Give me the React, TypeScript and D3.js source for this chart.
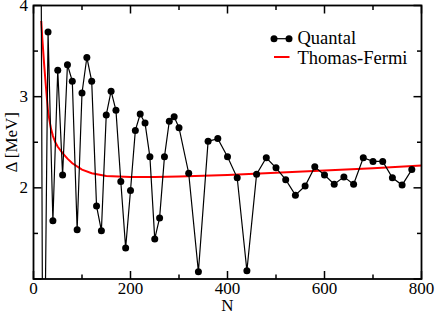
import React from "react";
import * as d3 from "d3";

const quantalN = [10, 20, 30, 40, 50, 60, 70, 80, 90, 100, 110, 120, 130, 140, 150, 160, 170, 180, 190, 200, 210, 220, 230, 240, 250, 260, 270, 280, 290, 300, 320, 340, 360, 380, 400, 420, 440, 460, 480, 500, 520, 540, 560, 580, 600, 620, 640, 660, 680, 700, 720, 740, 760, 780];
const quantalV = [12.5, -1.5, 3.71, 1.64, 3.29, 2.14, 3.35, 3.17, 1.54, 3.04, 3.43, 3.17, 1.8, 1.53, 2.8, 3.06, 2.85, 2.07, 1.34, 1.97, 2.63, 2.81, 2.71, 2.34, 1.44, 1.67, 2.34, 2.73, 2.78, 2.66, 2.16, 1.08, 2.51, 2.54, 2.34, 2.11, 1.09, 2.15, 2.33, 2.22, 2.09, 1.92, 2.02, 2.23, 2.14, 2.04, 2.12, 2.04, 2.33, 2.29, 2.29, 2.11, 2.03, 2.2];

const tfN = [16, 18, 20, 22, 25, 28, 30, 32, 36, 40, 45, 50, 60, 70, 80, 100, 120, 150, 200, 250, 300, 400, 500, 600, 700, 800];
const tfV = [3.83, 3.65, 3.5, 3.35, 3.15, 2.96, 2.84, 2.77, 2.65, 2.57, 2.5, 2.45, 2.38, 2.32, 2.27, 2.2, 2.16, 2.13, 2.12, 2.12, 2.125, 2.14, 2.165, 2.19, 2.215, 2.245];

const xMajor = [0, 200, 400, 600, 800];
const xMinor = [100, 300, 500, 700];
const yMajor = [1, 2, 3, 4];
const yLabels = [2, 3, 4];
const yMinor = [1.5, 2.5, 3.5];

const W = 436, H = 313;
const L = 33.5, R = 421.5, T = 5.5, B = 279;
const FONT = "'Liberation Serif', 'Times New Roman', Times, serif";
const ts = { fontFamily: FONT };

export default function App() {
  const x = d3.scaleLinear().domain([0, 800]).range([L, R]);
  const y = d3.scaleLinear().domain([1, 4]).range([B, T]);
  const q = quantalN.map((n, i) => [n, quantalV[i]] as [number, number]);
  const tf = tfN.map((n, i) => [n, tfV[i]] as [number, number]);
  const line = d3.line<[number, number]>().x(d => x(d[0])).y(d => y(d[1]));
  const majLen = 8, minLen = 4.5;

  return (
    <svg width={W} height={H} style={{ position: "absolute", left: 0, top: 0, display: "block", background: "#fff" }}>
      <defs>
        <clipPath id="plot"><rect x={L} y={T} width={R - L} height={B - T} /></clipPath>
      </defs>
      <g clipPath="url(#plot)">
        <path d={line(tf) || ""} fill="none" stroke="#ff0000" strokeWidth={2} />
        <path d={line(q) || ""} fill="none" stroke="#000" strokeWidth={1.2} />
        {q.map((d, i) => (
          <circle key={i} cx={x(d[0])} cy={y(d[1])} r={3.5} fill="#000" />
        ))}
      </g>
      {xMajor.map(v => (
        <g key={"xm" + v}>
          <line x1={x(v)} x2={x(v)} y1={B} y2={B - majLen} stroke="#000" strokeWidth={1.5} />
          <line x1={x(v)} x2={x(v)} y1={T} y2={T + majLen} stroke="#000" strokeWidth={1.5} />
          <text x={x(v)} y={294} textAnchor="middle" fontSize={17} style={ts}>{v}</text>
        </g>
      ))}
      {xMinor.map(v => (
        <g key={"xn" + v}>
          <line x1={x(v)} x2={x(v)} y1={B} y2={B - minLen} stroke="#000" strokeWidth={1.5} />
          <line x1={x(v)} x2={x(v)} y1={T} y2={T + minLen} stroke="#000" strokeWidth={1.5} />
        </g>
      ))}
      {yMajor.map(v => (
        <g key={"ym" + v}>
          <line x1={L} x2={L + majLen} y1={y(v)} y2={y(v)} stroke="#000" strokeWidth={1.5} />
          <line x1={R} x2={R - majLen} y1={y(v)} y2={y(v)} stroke="#000" strokeWidth={1.5} />
        </g>
      ))}
      {yLabels.map(v => (
        <text key={"yl" + v} x={28} y={y(v) + 5.5} textAnchor="end" fontSize={17} style={ts}>{v}</text>
      ))}
      {yMinor.map(v => (
        <g key={"yn" + v}>
          <line x1={L} x2={L + minLen} y1={y(v)} y2={y(v)} stroke="#000" strokeWidth={1.5} />
          <line x1={R} x2={R - minLen} y1={y(v)} y2={y(v)} stroke="#000" strokeWidth={1.5} />
        </g>
      ))}
      <rect x={L} y={T} width={R - L} height={B - T} fill="none" stroke="#000" strokeWidth={1.8} />
      <text x={(L + R) / 2} y={311} textAnchor="middle" fontSize={17} style={ts}>N</text>
      <text transform={`translate(17,${(T + B) / 2}) rotate(-90)`} textAnchor="middle" fontSize={17} style={ts}>Δ [MeV]</text>
      <line x1={274} x2={289} y1={38.7} y2={38.7} stroke="#000" strokeWidth={1.2} />
      <circle cx={274} cy={38.7} r={3.5} fill="#000" />
      <circle cx={289} cy={38.7} r={3.5} fill="#000" />
      <text x={297.5} y={43.5} fontSize={18.5} style={ts}>Quantal</text>
      <line x1={274} x2={289.5} y1={57} y2={57} stroke="#ff0000" strokeWidth={2} />
      <text x={297.5} y={63.5} fontSize={18.5} style={ts}>Thomas-Fermi</text>
    </svg>
  );
}
